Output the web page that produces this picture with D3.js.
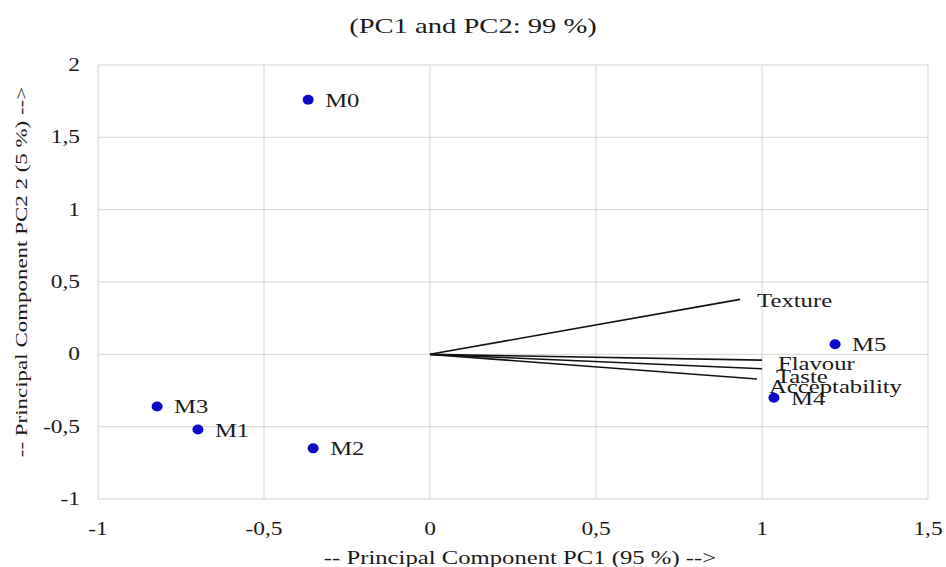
<!DOCTYPE html>
<html>
<head>
<meta charset="utf-8">
<script src="https://cdn.jsdelivr.net/npm/d3@7"></script>
<style>
  body { margin: 0; background: #fff; }
  svg text { font-family: "Liberation Serif", "Times New Roman", "DejaVu Serif", serif; fill: #1a1a1a; }
</style>
</head>
<body>
<script>
// samples (observations)
var sampleNames = ['M0', 'M1', 'M2', 'M3', 'M4', 'M5'];
var sampleX = [-0.367, -0.699, -0.352, -0.822, 1.036, 1.22];
var sampleY = [1.76, -0.52, -0.65, -0.36, -0.30, 0.07];

// variables (loadings)
var varNames = ['Texture', 'Flavour', 'Taste', 'Acceptability'];
var varX = [0.934, 1.0, 1.0, 0.985];
var varY = [0.38, -0.04, -0.10, -0.17];

var xTicks = [-1, -0.5, 0, 0.5, 1, 1.5];
var yTicks = [-1, -0.5, 0, 0.5, 1, 1.5, 2];

var width = 946;
var height = 567;
var stretch = 1.3; // the source text looks widened

var svg = d3.select('body').append('svg')
  .attr('width', width)
  .attr('height', height);

var x = d3.scaleLinear().domain([-1, 1.5]).range([98, 928]);
var y = d3.scaleLinear().domain([-1, 2]).range([499, 65]);

var fmt = function(d) { return String(d).replace('.', ','); };

function label(sel, px, py, str, size, anchor, rot, sx) {
  return sel.append('text')
    .attr('transform', 'translate(' + px + ',' + py + ')' + (rot ? ' rotate(' + rot + ')' : '') + ' scale(' + (sx || stretch) + ',1)')
    .attr('font-size', size)
    .attr('text-anchor', anchor || 'start')
    .text(str);
}

// grid
svg.append('g').selectAll('line').data(xTicks).enter().append('line')
  .attr('x1', function(d) { return x(d); })
  .attr('x2', function(d) { return x(d); })
  .attr('y1', y(-1)).attr('y2', y(2))
  .attr('stroke', '#d4d4d4').attr('stroke-width', 1);
svg.append('g').selectAll('line').data(yTicks).enter().append('line')
  .attr('y1', function(d) { return y(d); })
  .attr('y2', function(d) { return y(d); })
  .attr('x1', x(-1)).attr('x2', x(1.5))
  .attr('stroke', '#d4d4d4').attr('stroke-width', 1);

// tick labels
var tl = svg.append('g');
xTicks.forEach(function(t) {
  label(tl, x(t), y(-1) + 36, fmt(t), 18, 'middle');
});
yTicks.forEach(function(t) {
  label(tl, x(-1) - 18, y(t) + 6, fmt(t), 18, 'end');
});

// title + axis titles
label(svg, 473, 33, '(PC1 and PC2: 99 %)', 22, 'middle');
label(svg, 520, 564, '-- Principal Component PC1 (95 %) -->', 19, 'middle');
label(svg, 27, 272, '-- Principal Component PC2 2 (5 %) -->', 17, 'middle', -90, 1.35);

// vectors
var vars = varNames.map(function(n, i) { return { name: n, x: varX[i], y: varY[i] }; });
svg.append('g').selectAll('line').data(vars).enter().append('line')
  .attr('x1', x(0)).attr('y1', y(0))
  .attr('x2', function(d) { return x(d.x); })
  .attr('y2', function(d) { return y(d.y); })
  .attr('stroke', '#111').attr('stroke-width', 1.6);
var labOff = { Texture: [17, 8], Flavour: [16, 10], Taste: [14, 14], Acceptability: [12, 14] };
var vl = svg.append('g');
vars.forEach(function(d) {
  label(vl, x(d.x) + labOff[d.name][0], y(d.y) + labOff[d.name][1], d.name, 19);
});

// samples
var samples = sampleNames.map(function(n, i) { return { name: n, x: sampleX[i], y: sampleY[i] }; });
svg.append('g').selectAll('ellipse').data(samples).enter().append('ellipse')
  .attr('cx', function(d) { return x(d.x); })
  .attr('cy', function(d) { return y(d.y); })
  .attr('rx', 5.5).attr('ry', 5)
  .attr('fill', '#0a0ac8');
var sl = svg.append('g');
samples.forEach(function(d) {
  label(sl, x(d.x) + 17, y(d.y) + 7, d.name, 19);
});
</script>
</body>
</html>
